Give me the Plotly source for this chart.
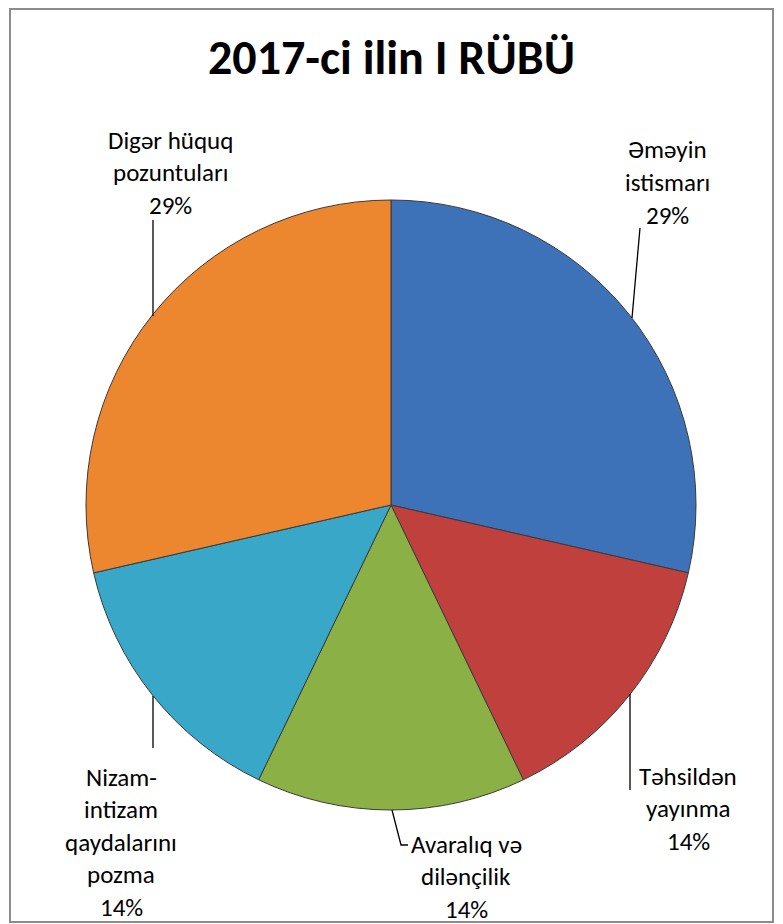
import plotly.graph_objects as go

# browser body has an 8px default margin; figure sized/offset to fit the 783x924 window
OFF = 8
W, H = 783 - OFF, 924 - OFF

title_text = "2017-ci ilin I RÜBÜ"
label_lines = [
    ["Əməyin", "istismarı"],
    ["Təhsildən", "yayınma"],
    ["Avaralıq və", "dilənçilik"],
    ["Nizam-", "intizam", "qaydalarını", "pozma"],
    ["Digər hüquq", "pozuntuları"],
]
labels = [" ".join(l).replace("- ", "-") for l in label_lines]
values = [2, 1, 1, 1, 2]
colors = ["#3E72B8", "#C0403D", "#8BB046", "#39A8C8", "#EC862F"]

total = sum(values)
pcts = [f"{round(100 * v / total)}%" for v in values]


def px(x, y):
    """window pixel -> paper coords"""
    return (x - OFF) / W, 1 - (y - OFF) / H


# pie placement (window pixels): centre (391,505), radius 305
cx, cy, r = 391, 505, 305
dx0, dy_top = px(cx - r, cy - r)
dx1, dy_bot = px(cx + r, cy + r)
fig = go.Figure(
    go.Pie(
        labels=labels,
        values=values,
        sort=False,
        direction="clockwise",
        rotation=0,
        textinfo="none",
        hoverinfo="label+percent",
        marker=dict(colors=colors, line=dict(color="#3a3a3a", width=1)),
        domain=dict(x=[dx0, dx1], y=[dy_bot, dy_top]),
        showlegend=False,
    )
)

font_family = "Carlito, Lato, 'Noto Sans', sans-serif"
annotations = []
tx, ty = px(391, 58)
annotations.append(dict(text=f"<b>{title_text}</b>", x=tx, y=ty, xref="paper", yref="paper",
                        showarrow=False, xanchor="center", yanchor="middle",
                        font=dict(family=font_family, size=48, color="#000000")))

# label block positions: (centre x, first-line y) in window pixels
label_pos = [(667, 150), (688, 776), (466, 844), (121, 777), (170, 140)]
line_step = 32.5
for lines, pct, (lx, ly) in zip(label_lines, pcts, label_pos):
    for i, t in enumerate(lines + [pct]):
        x, y = px(lx, ly + i * line_step)
        annotations.append(dict(text=t, x=x, y=y, xref="paper", yref="paper", showarrow=False,
                                xanchor="center", yanchor="middle",
                                font=dict(family=font_family, size=25, color="#000000")))

leaders = [
    [(640, 228), (632, 318)],
    [(630, 694), (630, 790)],
    [(392, 810), (401, 845), (408, 845)],
    [(153, 696), (153, 748)],
    [(153, 220), (153, 316)],
]
shapes = []
for pts in leaders:
    path = "M " + " L ".join(f"{px(x, y)[0]:.5f},{px(x, y)[1]:.5f}" for x, y in pts)
    shapes.append(dict(type="path", path=path, xref="paper", yref="paper",
                       line=dict(color="#000000", width=1.3)))

x0, y0 = px(10, 5)
x1, y1 = px(773, 922)
shapes.append(dict(type="rect", x0=x0, y0=y1, x1=x1, y1=min(y0, 0.999), xref="paper", yref="paper",
                   line=dict(color="#8C8C8C", width=2), fillcolor="rgba(0,0,0,0)"))

fig.update_layout(
    width=W, height=H,
    margin=dict(l=0, r=0, t=0, b=0),
    paper_bgcolor="#FFFFFF",
    plot_bgcolor="#FFFFFF",
    annotations=annotations,
    shapes=shapes,
)

fig.write_html("out.html")
